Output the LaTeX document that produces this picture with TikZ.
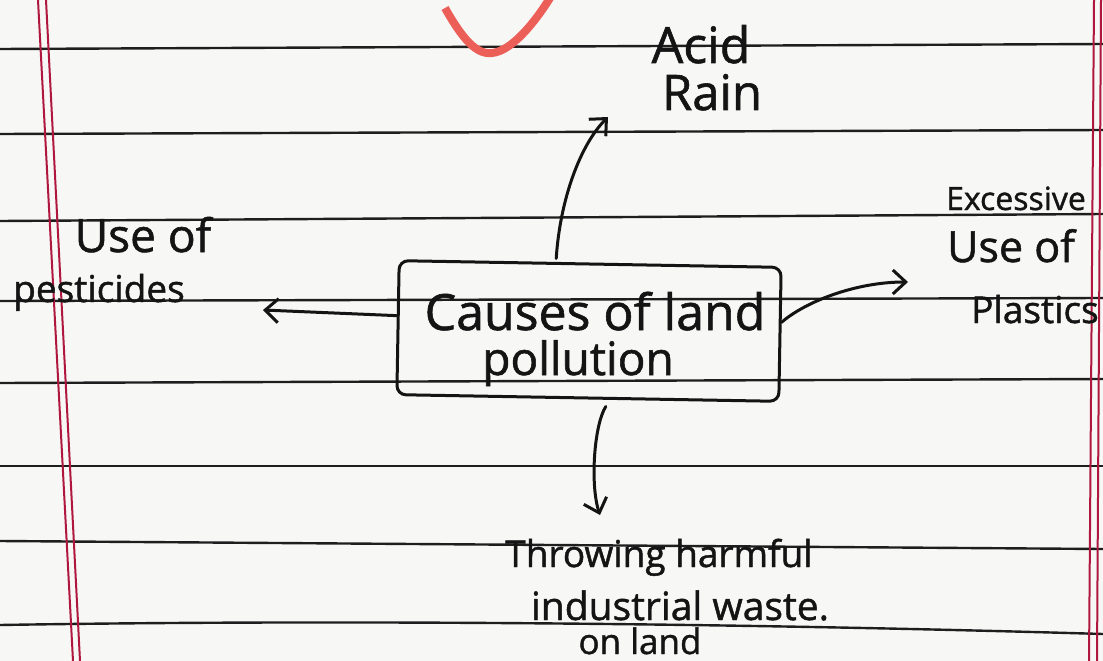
\documentclass[tikz,border=0pt]{standalone}
\usepackage{fontspec}
\setmainfont{Open Sans}
\newfontfamily\hwfont{Open Sans}[FakeBold=1.2]
\usetikzlibrary{arrows.meta}
\definecolor{ink}{HTML}{141414}
\definecolor{rulecol}{HTML}{1E1E1E}
\definecolor{margincol}{HTML}{B0173F}
\definecolor{paper}{HTML}{F7F7F5}
\definecolor{checkred}{HTML}{EC5F58}
\newcommand\hwsize[1]{\hwfont\fontsize{#1}{#1}\selectfont}
\tikzset{
  rule/.style={draw=rulecol, line width=2.4pt},
  marginline/.style={draw=margincol, line width=2pt},
  hw/.style={inner sep=0pt, anchor=base, text=ink, text depth=0pt},
  arr/.style={draw=ink, line width=3pt, line cap=round,
    -{Straight Barb[length=13pt,width=24pt,line width=3pt]}},
  causebox/.style={draw=ink, line width=3pt, rounded corners=9pt,
    minimum width=382pt, minimum height=134pt, inner sep=0pt, rotate=-1},
}
\begin{document}
\begin{tikzpicture}[x=1pt,y=-1pt]
\useasboundingbox (0,0) rectangle (1103,661);
\fill[paper] (0,0) rectangle (1103,661);
% ruled lines
\draw[rule] (0,49) -- (1103,44);
\draw[rule] (0,134) -- (1103,130);
\draw[rule] (0,221) -- (1103,214);
\draw[rule] (0,301) -- (1103,298);
\draw[rule] (0,383) -- (1103,379);
\draw[rule] (0,466) -- (1103,466);
\draw[rule] (0,541) -- (1103,549);
\draw[rule] (0,625) .. controls (300,620) and (700,622) .. (1103,634);
% margins
\draw[marginline] (38,0) -- (73,661);
\draw[marginline] (46,0) -- (80,661);
\draw[marginline] (1094,0) -- (1089,661);
\draw[marginline] (1101,0) -- (1097,661);
% red check mark
\draw[draw=checkred, line width=8pt] (445,8) .. controls (462,38) and (476,55) .. (492,53)
  .. controls (512,51) and (535,22) .. (550,-2);
% central box
\node[causebox] (box) at (589,331) {};
\node[hw, font=\hwsize{50}] (t1) at (595,330) {Causes of land};
\node[hw, font=\hwsize{46}] (t2) at (578,375) {pollution};
% labels
\node[hw, font=\hwsize{50}] (acid) at (701,63) {Acid};
\node[hw, font=\hwsize{49}] (rain) at (712,110) {Rain};
\node[hw, font=\hwsize{46}] (usel) at (143,252) {Use of};
\node[hw, font=\hwsize{37}] (pest) at (99,302) {pesticides};
\node[hw, font=\hwsize{32}] (exc) at (1016,210) {Excessive};
\node[hw, font=\hwsize{43}] (user) at (1011,262) {Use of};
\node[hw, font=\hwsize{37}, anchor=base west] (plas) at (971,323) {Plastics};
\node[hw, font=\hwsize{37}] (throw) at (659,567) {Throwing harmful};
\node[hw, font=\hwsize{39}] (indus) at (680,620) {industrial waste.};
\node[hw, font=\hwsize{35}] (onland) at (640,654) {on land};
% arrow ends
\coordinate (tipU) at (608,117);
\coordinate (tipL) at (263,310);
\coordinate (tipR) at (908,282);
\coordinate (tipD) at (600,515);
\coordinate (sU) at ([xshift=-34pt,yshift=4pt]box.north);
\coordinate (sL) at ([yshift=12pt]box.west);
\coordinate (sR) at ([yshift=12pt]box.east);
\coordinate (sD) at ([xshift=18pt,yshift=-7pt]box.south);
\draw[arr] (sU) .. controls (560,200) and (580,145) .. (tipU);
\draw[arr] (sL) -- (tipL);
\draw[arr] (sR) .. controls (805,302) and (855,282) .. (tipR);
\draw[arr] (sD) .. controls (594,425) and (590,485) .. (tipD);
\end{tikzpicture}
\end{document}
